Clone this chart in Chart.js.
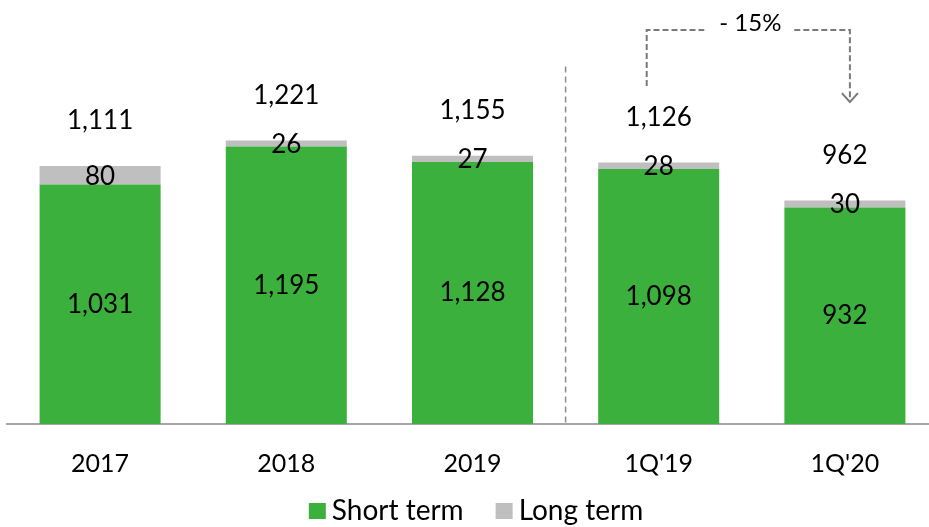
<!DOCTYPE html>
<html>
<head>
<meta charset="utf-8">
<script src="https://cdn.jsdelivr.net/npm/chart.js@4"></script>
<style>
  body { margin: 0; overflow: hidden; background: #fff; }
  #wrap { width: 940px; height: 527px; position: relative; }
</style>
</head>
<body>
<div id="wrap"><canvas id="myChart"></canvas></div>
<script>
var labels = ['2017', '2018', '2019', "1Q'19", "1Q'20"];
var shortTerm = [1031, 1195, 1128, 1098, 932];
var longTerm = [80, 26, 27, 28, 30];
var totals = [1111, 1221, 1155, 1126, 962];
var changeText = '- 15%';

var FONT = 'Lato, "Open Sans", sans-serif';

function fmt(n) {
  return n.toLocaleString('en-US');
}

// labels inside / above the bars + dashed separator + arrow + legend
var extras = {
  id: 'extras',
  afterDatasetsDraw: function (chart) {
    var ctx = chart.ctx;
    var x = chart.scales.x, y = chart.scales.y;
    var area = chart.chartArea;
    var m0 = chart.getDatasetMeta(0), m1 = chart.getDatasetMeta(1);
    ctx.save();
    ctx.fillStyle = '#000';
    ctx.font = '26px ' + FONT;
    ctx.textAlign = 'center';
    ctx.textBaseline = 'middle';
    for (var i = 0; i < labels.length; i++) {
      var b0 = m0.data[i], b1 = m1.data[i];
      ctx.fillText(fmt(shortTerm[i]), b0.x, (b0.y + b0.base) / 2);
      ctx.fillText(fmt(longTerm[i]), b1.x, (b1.y + b1.base) / 2 + 1);
      ctx.fillText(fmt(totals[i]), b1.x, b1.y - 45);
    }

    // vertical separator between years and quarters
    var sx = (x.getPixelForValue(2) + x.getPixelForValue(3)) / 2;
    ctx.strokeStyle = '#8c8c8c';
    ctx.lineWidth = 1.5;
    ctx.setLineDash([6, 4]);
    ctx.beginPath();
    ctx.moveTo(sx, y.getPixelForValue(1540));
    ctx.lineTo(sx, area.bottom);
    ctx.stroke();

    // change arrow
    var lx = x.getPixelForValue(3) - 12;
    var rx = x.getPixelForValue(4) + 5;
    var ty = y.getPixelForValue(1697);
    var cx = (lx + rx) / 2;
    ctx.strokeStyle = '#7a7a7a';
    ctx.lineWidth = 2;
    ctx.setLineDash([6, 3]);
    ctx.beginPath();
    ctx.moveTo(lx, y.getPixelForValue(1455));
    ctx.lineTo(lx, ty);
    ctx.lineTo(cx - 44, ty);
    ctx.moveTo(cx + 46, ty);
    ctx.lineTo(rx, ty);
    ctx.lineTo(rx, y.getPixelForValue(1395));
    ctx.stroke();
    ctx.setLineDash([]);
    ctx.beginPath();
    ctx.moveTo(rx - 8, y.getPixelForValue(1425));
    ctx.lineTo(rx, y.getPixelForValue(1387));
    ctx.lineTo(rx + 8, y.getPixelForValue(1425));
    ctx.stroke();
    ctx.font = '24px ' + FONT;
    ctx.fillStyle = '#000';
    ctx.fillText(changeText, cx + 2, ty - 7);

    // legend, drawn from the datasets
    ctx.font = '28px ' + FONT;
    ctx.textAlign = 'left';
    var sets = chart.data.datasets;
    var widths = sets.map(function (d) { return ctx.measureText(d.label).width; });
    var total = 0;
    widths.forEach(function (w) { total += 17 + 6 + w; });
    total += 32 * (sets.length - 1);
    var lxp = 476 - total / 2;
    var ly = 511;
    sets.forEach(function (d, k) {
      ctx.fillStyle = d.backgroundColor;
      ctx.fillRect(lxp, ly - 8, 17, 16);
      ctx.fillStyle = '#000';
      ctx.fillText(d.label, lxp + 23, ly);
      lxp += 17 + 6 + widths[k] + 32;
    });
    ctx.restore();
  }
};

var ctx = document.getElementById('myChart').getContext('2d');
var myChart = new Chart(ctx, {
  type: 'bar',
  data: {
    labels: labels,
    datasets: [{
      label: 'Short term',
      data: shortTerm,
      backgroundColor: '#3cb03c'
    }, {
      label: 'Long term',
      data: longTerm,
      backgroundColor: '#bfbfbf'
    }]
  },
  options: {
    responsive: true,
    maintainAspectRatio: false,
    animation: false,
    layout: { padding: { left: 7, right: 2, top: 6, bottom: 24 } },
    datasets: { bar: { barPercentage: 0.65, categoryPercentage: 1 } },
    plugins: {
      legend: { display: false },
      tooltip: { enabled: false }
    },
    scales: {
      x: {
        stacked: true,
        grid: { display: false, drawTicks: false },
        border: { display: true, color: '#a6a6a6', width: 2 },
        ticks: { color: '#000', padding: 27, font: { family: FONT, size: 25, lineHeight: 1 } }
      },
      y: {
        stacked: true,
        display: false,
        min: 0,
        max: 1800
      }
    }
  },
  plugins: [extras]
});
</script>
</body>
</html>
